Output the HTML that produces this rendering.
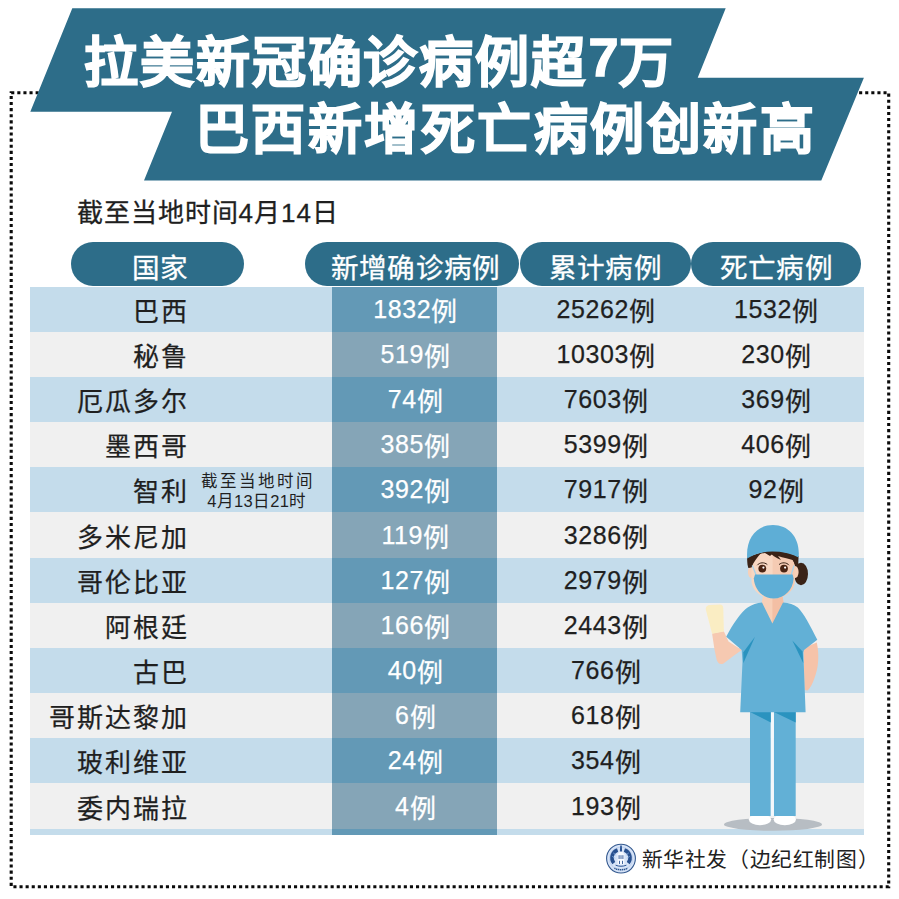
<!DOCTYPE html>
<html lang="zh-CN">
<head>
<meta charset="utf-8">
<title>拉美新冠确诊病例超7万 巴西新增死亡病例创新高</title>
<style>
html,body{margin:0;padding:0;}
body{width:899px;height:899px;position:relative;overflow:hidden;background:#fff;font-family:"Liberation Sans",sans-serif;color:#1f1f1f;}
.frame{position:absolute;left:0;top:0;width:899px;height:899px;}
h1{position:absolute;margin:0;left:0;top:0;width:899px;font-weight:bold;font-size:54px;-webkit-text-stroke:1.4px #fff;color:#fff;line-height:70px;white-space:nowrap;}
h1 span{position:absolute;display:block;}
h1 .n7{position:relative;top:-6.5px;left:1.5px;font-weight:bold;}
h1 .l1{left:84px;top:28px;letter-spacing:1.9px;}
h1 .l2{left:195px;top:94.7px;letter-spacing:2.45px;}
.asof{position:absolute;left:76.5px;top:197px;font-size:26px;line-height:32px;letter-spacing:1px;white-space:nowrap;-webkit-text-stroke:0.3px currentColor;}
.pill{position:absolute;top:242.4px;height:43.6px;border-radius:22px;background:#2d6d89;color:#fff;font-size:27.6px;letter-spacing:0.2px;line-height:54.5px;text-align:center;white-space:nowrap;-webkit-text-stroke:0.3px #fff;overflow:hidden;}
.row{position:absolute;left:29.5px;width:834.5px;}
.row.b{background:#c4dceb;}
.row.g{background:#f0f0f0;}
.cell{position:absolute;top:0;height:100%;line-height:inherit;font-size:25px;letter-spacing:0.6px;white-space:nowrap;-webkit-text-stroke:0.25px currentColor;}
.cell .u{position:relative;top:2.6px;font-size:26px;letter-spacing:0;}
.name{right:674.6px;top:3px;text-align:right;font-size:26px;letter-spacing:2px;background:none;}
.c2{left:302.5px;width:165px;text-align:center;color:#fff;text-indent:1.5px;}
.c3{left:493.8px;width:165px;text-align:center;}
.c4{left:664px;width:165px;text-align:center;}
.row.b .c2{background:#6399b6;}
.row.g .c2{background:#85a5b7;}
.note{position:absolute;left:171.8px;top:4.4px;width:113px;font-size:16.5px;line-height:20.1px;letter-spacing:2px;white-space:nowrap;}
.note span{display:block;}
.note .d{letter-spacing:0.3px;padding-left:6px;}
.tail{position:absolute;left:29.5px;top:829px;width:834.5px;height:6.3px;background:#c4dceb;}
.tail i{position:absolute;left:302.5px;width:165px;top:0;height:100%;background:#6399b6;}
.credit{position:absolute;left:641.6px;top:846.3px;font-size:20.8px;letter-spacing:0.6px;text-spacing-trim:space-all;line-height:28px;white-space:nowrap;color:#222;}
</style>
</head>
<body>
<svg class="frame" viewBox="0 0 899 899">
  <rect x="11.2" y="92.7" width="877.5" height="794" fill="none" stroke="#0a0a0a" stroke-width="3.1" stroke-dasharray="3.1 3"/>
  <polygon points="72.3,8.3 725.7,8.3 697.7,77.7 863.9,77.7 821.3,180.5 144,180.5 172,111.8 30.3,111.8" fill="#2d6d89"/>
</svg>
<h1><span class="l1">拉美新冠确诊病例超<b class="n7">7</b>万</span><span class="l2">巴西新增死亡病例创新高</span></h1>
<div class="asof">截至当地时间4月14日</div>
<div class="pill" style="left:71px;width:173px;text-indent:5.5px;">国家</div>
<div class="pill" style="left:304.6px;width:214.1px;text-indent:8px;">新增确诊病例</div>
<div class="pill" style="left:520.2px;width:170.5px;">累计病例</div>
<div class="pill" style="left:691.3px;width:170.2px;">死亡病例</div>
<div class="row b" style="top:287px;height:45px;line-height:45px"><div class="cell name">巴西</div><div class="cell c2">1832<span class="u">例</span></div><div class="cell c3">25262<span class="u">例</span></div><div class="cell c4">1532<span class="u">例</span></div></div>
<div class="row g" style="top:332px;height:45px;line-height:45px"><div class="cell name">秘鲁</div><div class="cell c2">519<span class="u">例</span></div><div class="cell c3">10303<span class="u">例</span></div><div class="cell c4">230<span class="u">例</span></div></div>
<div class="row b" style="top:377px;height:45px;line-height:45px"><div class="cell name">厄瓜多尔</div><div class="cell c2">74<span class="u">例</span></div><div class="cell c3">7603<span class="u">例</span></div><div class="cell c4">369<span class="u">例</span></div></div>
<div class="row g" style="top:422px;height:45px;line-height:45px"><div class="cell name">墨西哥</div><div class="cell c2">385<span class="u">例</span></div><div class="cell c3">5399<span class="u">例</span></div><div class="cell c4">406<span class="u">例</span></div></div>
<div class="row b" style="top:467px;height:45px;line-height:45px"><div class="cell name">智利</div><div class="note"><span>截至当地时间</span><span class="d">4月13日21时</span></div><div class="cell c2">392<span class="u">例</span></div><div class="cell c3">7917<span class="u">例</span></div><div class="cell c4">92<span class="u">例</span></div></div>
<div class="row g" style="top:512px;height:46px;line-height:46px"><div class="cell name">多米尼加</div><div class="cell c2">119<span class="u">例</span></div><div class="cell c3">3286<span class="u">例</span></div></div>
<div class="row b" style="top:558px;height:45px;line-height:45px"><div class="cell name">哥伦比亚</div><div class="cell c2">127<span class="u">例</span></div><div class="cell c3">2979<span class="u">例</span></div></div>
<div class="row g" style="top:603px;height:45px;line-height:45px"><div class="cell name">阿根廷</div><div class="cell c2">166<span class="u">例</span></div><div class="cell c3">2443<span class="u">例</span></div></div>
<div class="row b" style="top:648px;height:45px;line-height:45px"><div class="cell name">古巴</div><div class="cell c2">40<span class="u">例</span></div><div class="cell c3">766<span class="u">例</span></div></div>
<div class="row g" style="top:693px;height:45px;line-height:45px"><div class="cell name">哥斯达黎加</div><div class="cell c2">6<span class="u">例</span></div><div class="cell c3">618<span class="u">例</span></div></div>
<div class="row b" style="top:738px;height:45px;line-height:45px"><div class="cell name">玻利维亚</div><div class="cell c2">24<span class="u">例</span></div><div class="cell c3">354<span class="u">例</span></div></div>
<div class="row g" style="top:783px;height:46px;line-height:46px"><div class="cell name">委内瑞拉</div><div class="cell c2">4<span class="u">例</span></div><div class="cell c3">193<span class="u">例</span></div></div>
<div class="tail"><i></i></div>
<svg class="frame" viewBox="0 0 899 899">
  <!-- ground shadow -->
  <ellipse cx="773" cy="824.4" rx="49" ry="6.4" fill="#b7bdc3"/>
  <!-- shoes -->
  <ellipse cx="760" cy="819.6" rx="11.2" ry="5.6" fill="#ffffff"/>
  <ellipse cx="784.8" cy="819.6" rx="11.2" ry="5.6" fill="#ffffff"/>
  <!-- legs -->
  <rect x="750" y="711" width="20.8" height="105" fill="#62b0d6"/>
  <rect x="773.9" y="711" width="21.8" height="105" fill="#62b0d6"/>
  <rect x="770.8" y="712" width="3.1" height="104" fill="#f4f8fb"/>
  <polygon points="750,712 770.8,712 770.8,722.5" fill="#2a93bf"/>
  <polygon points="773.9,712 795.7,712 795.7,722.5" fill="#2a93bf"/>
  <!-- hanging arm (viewer right) -->
  <path d="M803.5 648 L816.8 642.5 C819.5 655 818.5 668 814.5 678 C812.5 684 810 688.5 807.6 690.5 L804.6 690 Z" fill="#f6c3a9"/>
  <!-- raised forearm (viewer left) -->
  <path d="M712.1 633.6 L723.8 631.3 L728.5 641.4 L741.7 650 L734 655.6 L723.5 663.5 C720 665 717.5 663 716.6 659.5 L714.4 649 Z" fill="#f6c9b1"/>
  <!-- glove -->
  <path d="M712.1 633.8 L705.9 610 C705.3 606.3 707.5 605.2 710.5 605 L719.5 604.6 C722.3 604.6 723.2 606 723.3 608.5 L723.9 631.4 Z" fill="#faedc3"/>
  <!-- neck -->
  <path d="M763.4 594 L782.3 594 L784 606 L772.4 624.5 L761 606 Z" fill="#f7d0b8"/>
  <path d="M772.4 594 L782.3 594 L784 606 L772.4 624.5 Z" fill="#f3bfa4"/>
  <!-- scrub top -->
  <path d="M762 602.5 L772.4 623.5 L783 602.5 C789 603 794 604.5 797.8 607.5 C803 612 811 627 817.3 639.8 L804 650 L803.3 652.5 L805.6 712.3 L740.2 712.3 L742.5 661.7 L741.7 650 L726.2 636.7 C733 624 741 612 748 607.3 C752 604.5 757 603 762 602.5 Z" fill="#62b0d6"/>
  <polygon points="755,636.7 743.3,652.3 743.3,663.2" fill="#2a93bf"/>
  <polygon points="792.3,640.6 802.5,651.5 803.3,663.2" fill="#2a93bf"/>
  <!-- hair back + bun -->
  <ellipse cx="801" cy="574" rx="7" ry="11.3" fill="#3a2317"/>
  <path d="M747.3 557 C747 563 747.6 566 748.6 568 L798 568 L798.6 556 L772 549 Z" fill="#3a2317"/>
  <!-- ears -->
  <ellipse cx="751.3" cy="572" rx="3.4" ry="6" fill="#f7d0b8"/>
  <ellipse cx="795.2" cy="572" rx="3.4" ry="6" fill="#f7d0b8"/>
  <!-- face -->
  <path d="M751.5 566 C752 558 758 553.5 765 553 L770 556 L774 552.5 C784 552 793 556 794.8 566 L794.8 582 C794 591 784 598.5 773 598.5 C762 598.5 752.5 591 751.5 582 Z" fill="#f8d7c2"/>
  <path d="M772.6 553.5 L774 552.5 C784 552 793 556 794.8 566 L794.8 582 C794 591 784 598.5 773 598.5 L772.6 598.5 Z" fill="#f5cbb3"/>
  <!-- fringe -->
  <path d="M768 551 L790 553 L796 561 C789 559 783 557.5 778 556 L781 560 C776 558 771.5 555 768 551 Z" fill="#3a2317"/>
  <path d="M747.5 558 L761 553 C757 557.5 753.5 562 751.5 567.5 L748.6 568 Z" fill="#3a2317"/>
  <!-- eyes -->
  <circle cx="762.3" cy="568.6" r="3.9" fill="#4a2413"/>
  <circle cx="784" cy="568.6" r="3.9" fill="#4a2413"/>
  <circle cx="763.4" cy="567.6" r="1.1" fill="#ffffff"/>
  <circle cx="785.1" cy="567.6" r="1.1" fill="#ffffff"/>
  <path d="M757.3 565.2 C759.5 562.3 764.5 562 767.3 564.6" fill="none" stroke="#3a2317" stroke-width="1"/>
  <path d="M779 564.6 C781.8 562 786.8 562.3 789 565.2" fill="none" stroke="#3a2317" stroke-width="1"/>
  <!-- mask straps -->
  <path d="M752.3 565.5 L756.3 575.5 M794 565.5 L791 575.5" stroke="#a9d3ea" stroke-width="1.3" fill="none"/>
  <!-- mask -->
  <path d="M755 574.6 L792.6 574.6 L793.6 578.5 C793 590 784 598.6 773.6 598.6 C763 598.6 754.6 590 753.8 578.5 Z" fill="#5eaed6"/>
  <!-- cap -->
  <path d="M747.2 558.6 C745.5 538 757 525 773 525 C789 525 800.5 538 798.6 557.5 C791 553.5 782 551.6 772.5 551.6 C763 551.6 754 554 747.2 558.6 Z" fill="#5eaed6"/>
</svg>
<svg class="frame" viewBox="0 0 899 899">
  <g transform="translate(621 858.6)">
    <circle r="14.4" fill="#d6e3f7" stroke="#34598f" stroke-width="1.1"/>
    <circle r="11.6" fill="none" stroke="#b9cdec" stroke-width="0.8"/>
    <!-- wreath -->
    <path d="M-3.4 -8.6 A8.4 8.4 0 0 0 -7.2 4.6" fill="none" stroke="#28508f" stroke-width="3.6"/>
    <path d="M3.4 -8.6 A8.4 8.4 0 0 1 7.2 4.6" fill="none" stroke="#28508f" stroke-width="3.6"/>
    <path d="M-8.6 -2.6 L-6.2 -0.2 M8.6 -2.6 L6.2 -0.2 M-7.6 -5.6 L-5.4 -3.6 M7.6 -5.6 L5.4 -3.6" stroke="#8fb6e8" stroke-width="0.9" fill="none"/>
    <!-- tower -->
    <path d="M-1 -7.4 L1 -7.4 L3.3 -4.4 L3.3 6 L-3.3 6 L-3.3 -4.4 Z" fill="#f6f9ff"/>
    <path d="M-0.8 -13.2 L0.8 -13.2 L1.1 -7 L-1.1 -7 Z" fill="#2c5595"/>
    <path d="M-1.9 -3.4 L-1.9 0.4 M0 -3.4 L0 0.4 M1.9 -3.4 L1.9 0.4 M-1.5 2.2 L-1.5 5.4 M1.5 2.2 L1.5 5.4" stroke="#2c5595" stroke-width="0.9" fill="none"/>
    <path d="M-5.4 6.6 C-2 8 2 8 5.4 6.6" fill="none" stroke="#2c5595" stroke-width="1"/>
    <!-- lettering band -->
    <path d="M-6.6 9.6 C-3 11.6 3 11.6 6.6 9.6" fill="none" stroke="#2d568f" stroke-width="1.5" stroke-dasharray="1.3 0.6"/>
  </g>
</svg>
<div class="credit">新华社发（边纪红制图）</div>
</body>
</html>
